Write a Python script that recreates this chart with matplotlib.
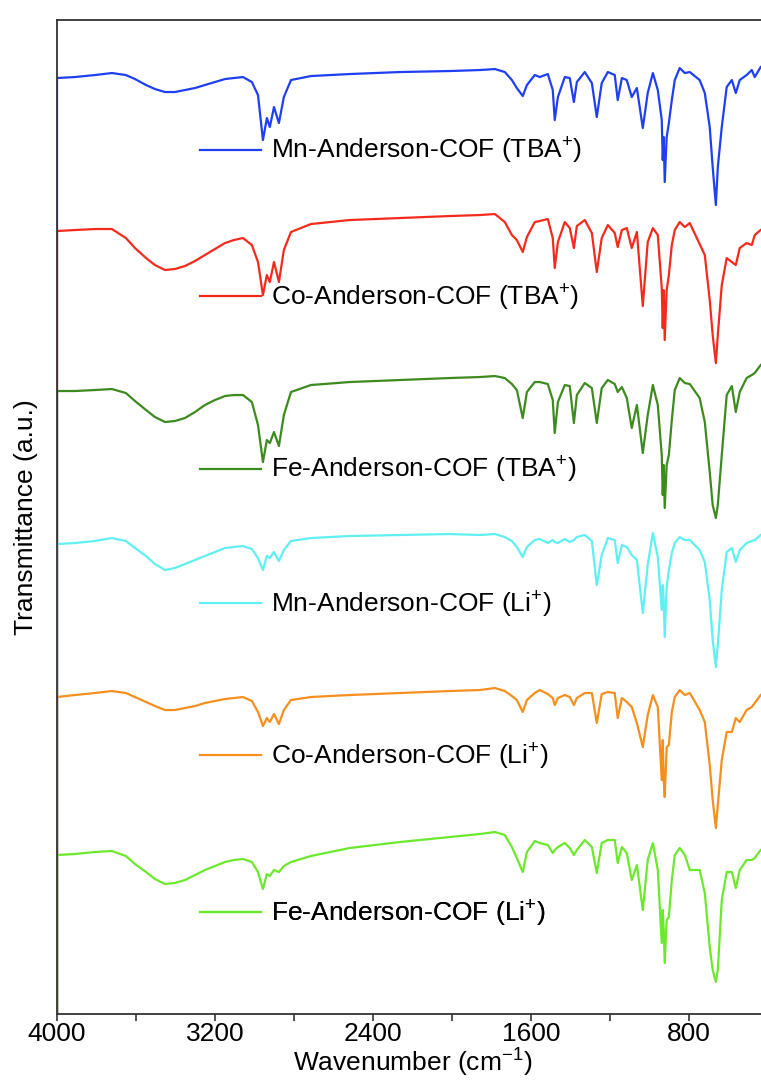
import numpy as np
import matplotlib
matplotlib.use("Agg")
from matplotlib import pyplot as plt

plt.rcParams['font.family'] = ['Liberation Sans', 'DejaVu Sans']
plt.rcParams['mathtext.fontset'] = 'custom'
plt.rcParams['mathtext.rm'] = 'Liberation Sans'
plt.rcParams['mathtext.it'] = 'Liberation Sans:italic'
plt.rcParams['mathtext.default'] = 'regular'

# wavenumber grid (cm-1)
wavenumber = [4000, 4000, 3909, 3808, 3722, 3651, 3605, 3549, 3504, 3453, 3403, 3352, 3301,
              3251, 3200, 3149, 3104, 3058, 3013, 2982,
              2957, 2937, 2922, 2901, 2876, 2851, 2815, 2714, 2517, 2263, 2010, 1858, 1782, 1732,
              1696, 1671, 1641, 1620, 1580, 1555, 1514, 1489, 1479, 1463, 1428, 1403, 1382, 1367,
              1327, 1291, 1266, 1241, 1210, 1175, 1160, 1139, 1114, 1089, 1063, 1033, 1008, 982,
              957, 937, 932, 927, 922, 912, 901, 886, 871, 846, 820, 795, 745, 719, 694, 679,
              663, 653, 633, 608, 582, 562, 542, 507, 481, 466, 436]

# transmittance (a.u.), each trace scaled to ~100 at 4000 cm-1
mn_tba = [-1000, 100, 101, 103, 105, 103, 99, 93, 89, 86, 86, 88, 90, 93, 96, 99, 100, 101, 96, 83,
          38, 60, 51, 71, 55, 81, 98, 102, 104, 106, 107, 108, 109, 106,
          98, 90, 82, 93, 103, 101, 104, 88, 58, 81, 101, 100, 76, 96,
          106, 95, 61, 95, 106, 103, 78, 100, 98, 81, 90, 50, 85, 105,
          88, 58, 18, 41, -4, 41, 55, 78, 98, 110, 105, 106, 98, 85, 51, 11,
          -27, 11, 51, 91, 98, 85, 98, 103, 108, 101, 111]
co_tba = [-1000, 100, 101, 102, 102, 93, 83, 73, 66, 61, 62, 65, 70, 76, 82, 88, 91, 93, 86, 69,
          36, 56, 49, 69, 49, 81, 99, 107, 111, 113, 115, 116, 117, 109,
          96, 91, 79, 94, 109, 110, 112, 93, 63, 89, 109, 103, 83, 105,
          111, 98, 59, 93, 106, 98, 84, 101, 103, 83, 99, 25, 89, 103,
          96, 43, 3, 41, -9, 41, 56, 86, 101, 109, 104, 108, 87, 76, 31, -4,
          -32, -4, 46, 73, 69, 66, 83, 88, 86, 96, 101]
fe_tba = [-1000, 100, 100, 101, 102, 98, 90, 81, 74, 69, 70, 73, 79, 86, 91, 95, 96, 96, 89, 66,
          29, 51, 48, 59, 45, 76, 99, 106, 109, 111, 113, 114, 115, 113,
          107, 101, 73, 99, 109, 109, 107, 91, 58, 89, 106, 105, 68, 96,
          108, 103, 68, 103, 111, 107, 99, 104, 93, 63, 86, 38, 76, 106,
          86, 36, -4, 26, -17, 26, 36, 71, 101, 113, 108, 107, 93, 69, 19, -14,
          -27, -14, 36, 96, 105, 79, 99, 113, 116, 118, 126]
mn_li = [-1000, 100, 101, 103, 106, 103, 96, 88, 80, 74, 76, 80, 84, 88, 92, 96, 97, 98, 95, 86,
         74, 88, 86, 92, 83, 94, 103, 106, 108, 109, 110, 109, 110, 107,
         103, 97, 87, 97, 104, 105, 101, 104, 102, 101, 105, 102, 104, 107,
         109, 103, 59, 89, 106, 104, 81, 99, 97, 89, 84, 31, 79, 111,
         87, 34, 59, 44, 7, 57, 74, 91, 101, 107, 104, 104, 94, 82, 44, 4,
         -23, -1, 54, 92, 96, 82, 94, 101, 103, 104, 109]
co_li = [-1000, 100, 102, 104, 106, 104, 100, 95, 91, 87, 87, 89, 91, 94, 96, 98, 99, 100, 96, 85,
         71, 79, 75, 83, 73, 87, 97, 100, 102, 104, 106, 107, 109, 106,
         101, 97, 85, 97, 104, 107, 103, 99, 92, 99, 102, 100, 92, 99,
         104, 104, 74, 103, 105, 104, 79, 99, 95, 90, 74, 50, 82, 102,
         90, 17, 57, 17, 0, 50, 52, 85, 100, 107, 102, 104, 87, 75, 32, -3,
         -31, -8, 37, 65, 65, 79, 75, 87, 90, 94, 102]
fe_li = [-1000, 100, 101, 103, 104, 99, 91, 83, 76, 71, 72, 75, 80, 85, 89, 93, 95, 96, 93, 83,
         66, 81, 79, 85, 83, 89, 93, 99, 107, 113, 118, 121, 123, 120,
         108, 97, 83, 103, 114, 112, 110, 102, 105, 108, 112, 107, 100, 105,
         115, 108, 82, 112, 115, 115, 92, 108, 102, 75, 90, 45, 95, 112,
         85, 12, 45, 25, -8, 35, 38, 75, 100, 107, 100, 85, 85, 62, 8, -15,
         -27, -15, 55, 83, 83, 67, 85, 95, 95, 97, 105]

series = [mn_tba, co_tba, fe_tba, mn_li, co_li, fe_li]
labels = ['Mn-Anderson-COF (TBA$^{+}$)', 'Co-Anderson-COF (TBA$^{+}$)',
          'Fe-Anderson-COF (TBA$^{+}$)', 'Mn-Anderson-COF (Li$^{+}$)',
          'Co-Anderson-COF (Li$^{+}$)', 'Fe-Anderson-COF (Li$^{+}$)']
colors = ['#1f3ff2', '#f42a1c', '#3d8a1f', '#60eff2', '#f58f1e', '#6ce82d']
offsets = [836, 683, 523, 370, 217, 59]
label_pos = [0.868, 0.721, 0.547, 0.412, 0.259, 0.101]

fig = plt.figure(figsize=(7.61, 10.83), dpi=100)
ax = fig.add_axes([0.0749, 0.0637, 0.934, 0.9178])

lines = []
for t, c, off in zip(series, colors, offsets):
    ln, = ax.plot(wavenumber, np.array(t) + off, color=c, lw=1.6)
    lines.append(ln)

for ln, lab, yp in zip(lines, labels, label_pos):
    leg = ax.legend([ln], [lab], loc='center left', bbox_to_anchor=(0.201, yp),
                    frameon=False, fontsize=19, handlelength=2.3, handletextpad=0.4,
                    borderpad=0, borderaxespad=0)
    ax.add_artist(leg)

ax.set_xlim(4000, 400)
ax.set_ylim(0, 994)
ax.set_xticks([4000, 3200, 2400, 1600, 800])
ax.set_xticks([3600, 2800, 2000, 1200, 400], minor=True)
ax.set_yticks([])
ax.tick_params(axis='x', which='both', direction='out', length=5, width=1.2,
               labelsize=19, pad=1, color='#333333')
for sp in ax.spines.values():
    sp.set_color('#333333')
    sp.set_linewidth(1.3)

ax.set_xlabel('Wavenumber (cm$^{-1}$)', fontsize=19, labelpad=0)
ax.set_ylabel('Transmittance (a.u.)', fontsize=19, labelpad=14)

fig.savefig('out.png', dpi=100)
